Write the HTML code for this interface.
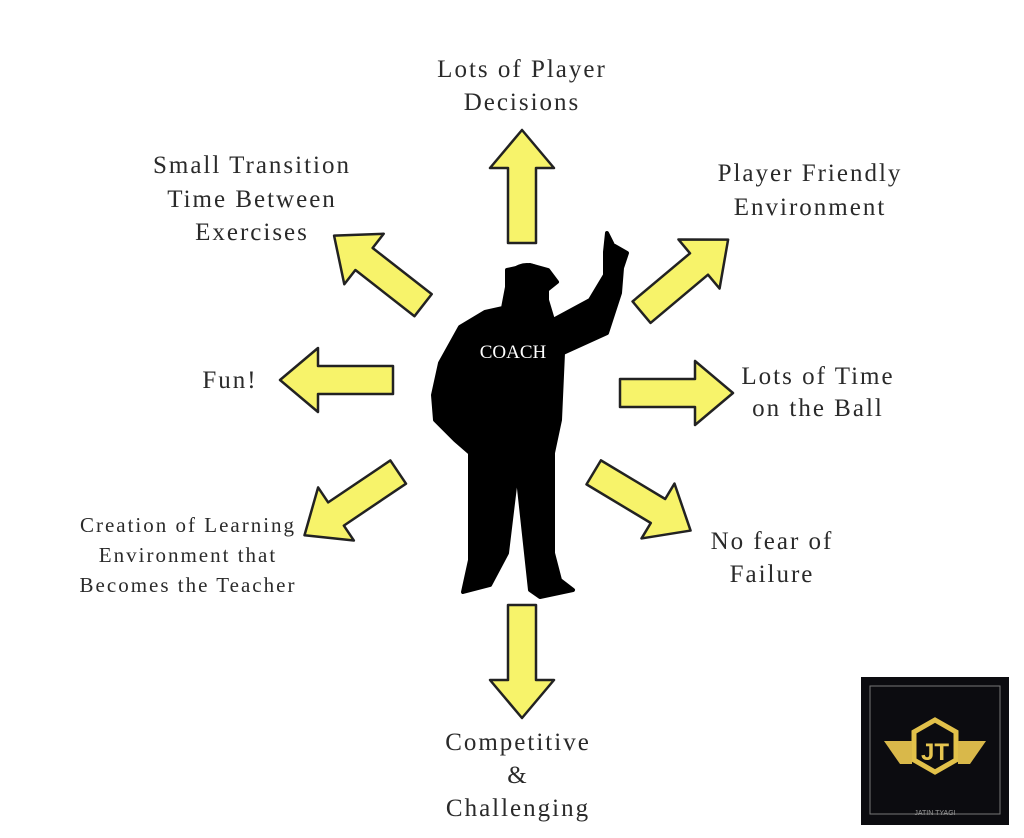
<!DOCTYPE html>
<html><head><meta charset="utf-8"><style>
body{margin:0;background:#fff;width:1024px;height:838px;overflow:hidden}
svg{display:block}
text{font-family:"Liberation Serif",serif;font-size:25px;letter-spacing:2px;fill:#2a2a2a;text-anchor:middle}
</style></head><body>
<svg width="1024" height="838" viewBox="0 0 1024 838">
<defs>
<polygon id="ar" points="0,-14 -75,-14 -75,14 0,14 0,32 38,0 0,-32" fill="#f7f36a" stroke="#222" stroke-width="2.5" stroke-linejoin="round"/>
</defs>
<use href="#ar" transform="translate(522,168) rotate(-90)"/>
<use href="#ar" transform="translate(522,680) rotate(90)"/>
<use href="#ar" transform="translate(318,380) rotate(180)"/>
<use href="#ar" transform="translate(695,393)"/>
<use href="#ar" transform="translate(364,259) rotate(-142)"/>
<use href="#ar" transform="translate(336,514) rotate(146)"/>
<use href="#ar" transform="translate(658,511) rotate(31)"/>
<use href="#ar" transform="translate(699,264) rotate(-40)"/>
<path d="M530,265 L548,270 L557,282 L547,290 L547,300 L553,320 L590,300 L605,275 L605,252 L607,233 L613,245 L627,253 L622,268 L620,293 L607,333 L563,353 L560,420 L553,453 L553,553 L560,580 L573,590 L540,597 L530,590 L517,470 L507,553 L490,585 L463,592 L470,560 L470,453 L455,440 L435,420 L433,395 L440,363 L460,327 L485,312 L503,308 L507,287 L507,270 Z" fill="#000" stroke="#000" stroke-width="4" stroke-linejoin="round"/>
<ellipse cx="527" cy="285" rx="22" ry="22" fill="#000"/>
<text x="513" y="358" style="fill:#fff;font-size:19px;letter-spacing:0">COACH</text>
<text x="522" y="77">Lots of Player</text>
<text x="522" y="110">Decisions</text>
<text x="252" y="173">Small Transition</text>
<text x="252" y="207">Time Between</text>
<text x="252" y="240">Exercises</text>
<text x="810" y="181">Player Friendly</text>
<text x="810" y="215">Environment</text>
<text x="230" y="388">Fun!</text>
<text x="818" y="384">Lots of Time</text>
<text x="818" y="416">on the Ball</text>
<text x="188" y="532" style="font-size:21px">Creation of Learning</text>
<text x="188" y="562" style="font-size:21px">Environment that</text>
<text x="188" y="592" style="font-size:21px">Becomes the Teacher</text>
<text x="772" y="549">No fear of</text>
<text x="772" y="582">Failure</text>
<text x="518" y="750">Competitive</text>
<text x="518" y="783">&amp;</text>
<text x="518" y="816">Challenging</text>
<rect x="861" y="677" width="148" height="148" fill="#0c0c10"/>
<rect x="870" y="686" width="130" height="128" fill="none" stroke="#777" stroke-width="1"/>
<polygon points="935,720 956,732 956,760 935,772 914,760 914,732" fill="none" stroke="#e2c14a" stroke-width="5"/>
<polygon points="884,741 912,741 912,764 900,764" fill="#d9b84a"/>
<polygon points="986,741 958,741 958,764 970,764" fill="#d9b84a"/>
<text x="935" y="760" style="fill:#e6c550;font-family:'Liberation Sans',sans-serif;font-weight:bold;font-size:24px;letter-spacing:0">JT</text>
<text x="935" y="815" style="fill:#999;font-family:'Liberation Sans',sans-serif;font-size:7px;letter-spacing:0">JATIN TYAGI</text>
</svg>
</body></html>
